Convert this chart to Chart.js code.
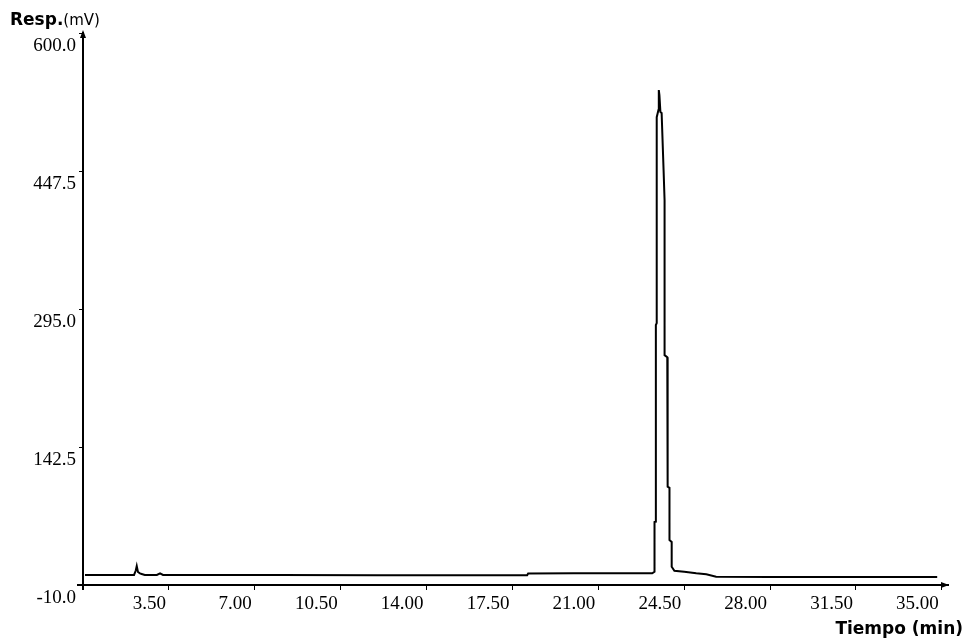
<!DOCTYPE html>
<html><head><meta charset="utf-8">
<script src="https://cdn.jsdelivr.net/npm/chart.js@4.4.1/dist/chart.umd.min.js"></script>
<style>html,body{margin:0;padding:0;background:#fff;} canvas{display:block;}</style>
</head><body>
<canvas id="c" width="965" height="642"></canvas>
<script>
// Chromatogram trace: time (min) and response (mV)
const timeMin = [
  0.08, 1.00, 2.00, 2.08, 2.15, 2.19, 2.24, 2.32, 2.39, 2.52, 3.01, 3.14, 3.26, 5.00,
  8.00, 12.00, 15.00, 18.10, 18.14, 20.00, 22.50, 23.196, 23.29, 23.29, 23.345, 23.345,
  23.38, 23.38, 23.45, 23.465, 23.49, 23.53, 23.58, 23.66, 23.70, 23.70, 23.81, 23.82,
  23.83, 23.90, 23.90, 23.99, 23.99, 24.10, 24.50, 24.99, 25.40, 25.80, 28.00, 31.00, 34.81
];
const respMV = [
  1.0, 1.0, 1.0, 1.1, 6.0, 11.0, 4.4, 2.8, 2.2, 1.1, 1.1, 2.9, 1.1, 1.0,
  1.0, 0.9, 0.9, 0.9, 2.8, 2.9, 2.9, 2.9, 4.7, 59.6, 60.0, 277.3,
  279.5, 507.0, 514.8, 537.0, 531.5, 512.7, 511.6, 448.2, 415.0, 244.0, 241.8, 216.4,
  98.6, 97.4, 39.7, 37.5, 10.2, 5.8, 4.7, 2.9, 1.8, -0.8, -1.2, -1.2, -1.2
];
const xTickValues = [3.5, 7, 10.5, 14, 17.5, 21, 24.5, 28, 31.5, 35];
const yTickValues = [-10, 142.5, 295, 447.5, 600];
const xRange = [0, 35.25];
const yRange = [-10, 600];
const yTitleMain = 'Resp.';
const yTitleUnit = '(mV)';
const xTitle = 'Tiempo (min)';

const points = timeMin.map((t, i) => ({ x: t, y: respMV[i] }));
const tickFont = { family: '"Liberation Serif", serif', size: 19 };

const axisDecor = {
  id: 'axisDecor',
  afterDraw(chart) {
    const ctx = chart.ctx;
    const a = chart.chartArea;
    ctx.save();
    ctx.strokeStyle = '#000';
    ctx.fillStyle = '#000';
    ctx.lineWidth = 2;
    // axis lines extended slightly past the crossing
    ctx.beginPath();
    ctx.moveTo(a.left, a.top - 1);
    ctx.lineTo(a.left, a.bottom + 5);
    ctx.moveTo(a.left - 6, a.bottom);
    ctx.lineTo(a.right - 2, a.bottom);
    ctx.stroke();
    // arrow heads
    ctx.beginPath();
    ctx.moveTo(a.left, a.top - 3);
    ctx.lineTo(a.left - 3, a.top + 5);
    ctx.lineTo(a.left + 3, a.top + 5);
    ctx.closePath();
    ctx.fill();
    ctx.beginPath();
    ctx.moveTo(a.right + 1, a.bottom);
    ctx.lineTo(a.right - 7, a.bottom - 3);
    ctx.lineTo(a.right - 7, a.bottom + 3);
    ctx.closePath();
    ctx.fill();
    // axis titles
    ctx.textBaseline = 'alphabetic';
    ctx.textAlign = 'left';
    ctx.font = 'bold 17px "DejaVu Sans", sans-serif';
    ctx.fillText(yTitleMain, 10, 25);
    const w = ctx.measureText(yTitleMain).width;
    ctx.font = '15px "DejaVu Sans", sans-serif';
    ctx.fillText(yTitleUnit, 10 + w, 25);
    ctx.textAlign = 'right';
    ctx.font = 'bold 17px "DejaVu Sans", sans-serif';
    ctx.fillText(xTitle, 963, 634);
    ctx.restore();
  }
};

new Chart(document.getElementById('c'), {
  type: 'line',
  data: {
    datasets: [{
      data: points,
      borderColor: '#000',
      borderWidth: 2,
      pointRadius: 0,
      tension: 0,
      fill: false
    }]
  },
  options: {
    responsive: false,
    animation: false,
    events: [],
    layout: { padding: { top: 33, right: 17, left: 0, bottom: 0 } },
    plugins: { legend: { display: false }, tooltip: { enabled: false }, title: { display: false } },
    scales: {
      x: {
        type: 'linear',
        min: xRange[0], max: xRange[1],
        afterBuildTicks: s => { s.ticks = xTickValues.map(v => ({ value: v })); },
        afterFit: s => { s.height = 57; },
        border: { display: true, color: '#000', width: 2 },
        grid: { display: true, drawOnChartArea: false, drawTicks: true, tickLength: 5, color: '#000', lineWidth: 1 },
        ticks: {
          color: '#000', font: tickFont, align: 'end', labelOffset: -3, padding: 3,
          maxRotation: 0, autoSkip: false,
          callback: v => Number(v).toFixed(2)
        }
      },
      y: {
        type: 'linear',
        min: yRange[0], max: yRange[1],
        afterBuildTicks: s => { s.ticks = yTickValues.map(v => ({ value: v })); },
        afterFit: s => { s.width = 83; },
        border: { display: true, color: '#000', width: 2 },
        grid: { display: true, drawOnChartArea: false, drawTicks: true, tickLength: 4, color: '#000', lineWidth: 1 },
        ticks: {
          color: '#000', font: tickFont, labelOffset: 13, padding: 3, autoSkip: false,
          callback: v => Number(v).toFixed(1)
        }
      }
    }
  },
  plugins: [axisDecor]
});
</script>
</body></html>
